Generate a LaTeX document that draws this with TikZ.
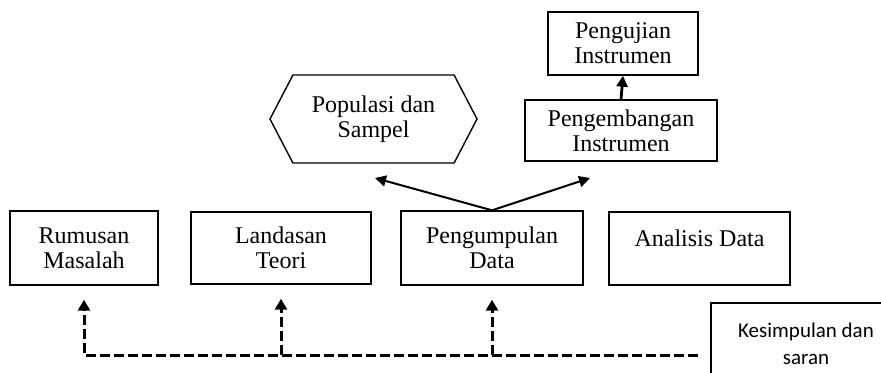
\documentclass[tikz,border=0pt]{standalone}
\usepackage{fontspec}
\setmainfont{Liberation Serif}
\newfontfamily\kesfont{Carlito}
\usetikzlibrary{arrows.meta}
\usetikzlibrary{calc}
\usetikzlibrary{shapes.symbols}

\begin{document}
\begin{tikzpicture}[x=0.5pt,y=-0.5pt,
    procbox/.style={draw=black,line width=0.7pt,align=center,inner sep=2pt,
      font=\fontsize{12}{12.5}\selectfont},
    hexbox/.style={signal,signal to=west and east,signal pointer angle=125,
      draw=black,line width=0.7pt,align=center,inner sep=2pt,
      font=\fontsize{12}{12.5}\selectfont},
    flowarrow/.style={-{Triangle[width=5.5pt,length=5.5pt]},line width=1pt},
    backarrow/.style={-{Triangle[width=6pt,length=5.5pt]},line width=1.5pt,
      dash pattern=on 5pt off 2pt,shorten >=7pt}
  ]

\clip (0,0) rectangle (881,372);

% upper row
\node[procbox, minimum width=75pt, minimum height=31.5pt] (uji) at (623,43.5) {Pengujian\\Instrumen};
\node[procbox, minimum width=96pt, minimum height=30.5pt] (kem) at (621,130.5) {Pengembangan\\Instrumen};
\node[hexbox, minimum width=103.5pt, minimum height=44pt] (pop) at (373.5,119) {Populasi dan\\Sampel};

% main row
\node[procbox, minimum width=74pt, minimum height=37pt] (rm) at (84,248) {Rumusan\\Masalah};
\node[procbox, minimum width=90pt, minimum height=36pt] (lt) at (281,248) {Landasan\\Teori};
\node[procbox, minimum width=91pt, minimum height=37pt] (pd) at (492,248) {Pengumpulan\\Data};
\node[procbox, minimum width=90.5pt, minimum height=36.5pt, text depth=10pt] (ad) at (699.5,248.5) {Analisis Data};

\node[draw=black,line width=1pt,align=center,minimum width=95pt,minimum height=40.5pt,
  font=\kesfont\fontsize{10.5}{13.5}\selectfont] (kes) at (806,343.5) {Kesimpulan dan\\saran};

\coordinate (popend) at (375,178);
\coordinate (kemend) at (590,178);
\coordinate (dend) at (698,355);

\draw[flowarrow] (pd.north) -- (popend);
\draw[flowarrow] (pd.north) -- (kemend);
\draw[flowarrow,line width=1.4pt] (kem.north) -- (uji.south);

% feedback
\draw[backarrow] (dend) -- (rm.south |- dend) -- (rm.south);
\draw[backarrow] (lt.south |- dend) -- (lt.south);
\draw[backarrow] (pd.south |- dend) -- (pd.south);

\end{tikzpicture}
\end{document}
